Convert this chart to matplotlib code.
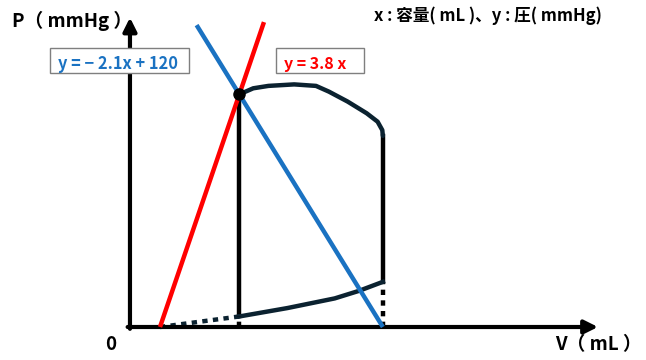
import matplotlib
matplotlib.use("Agg")
import matplotlib.pyplot as plt
from matplotlib.patches import Rectangle

plt.rcParams['font.family'] = ['Noto Sans CJK JP', 'DejaVu Sans']

# lines: P = slope * V + intercept
red_slope, red_icpt = 3.8, 0.0
blue_slope, blue_icpt = -2.1, 120.0

# end-systolic point and end-diastolic volume
esv = (blue_icpt - red_icpt) / (red_slope - blue_slope)
esp = red_slope * esv
edv = -blue_icpt / blue_slope

# upper (ejection) curve of the loop
top_v = [esv, 23.9, 27.8, 34.4, 40.0, 43.3, 48.1, 53.0, 55.8, 57.0, edv]
top_p = [esp, 79.3, 80.1, 80.6, 80.1, 78.2, 74.9, 71.0, 68.2, 65.4, 63.5]

# lower (filling) curve of the loop
low_v = [esv, 32.7, 44.8, 51.0, edv]
low_p = [3.5, 6.3, 9.5, 12.0, 15.0]

red_top = 101.3
blue_top = 100.3

W, H = 646, 360
fig = plt.figure(figsize=(W / 100, H / 100), dpi=100)
ax = fig.add_axes([0, 0, 1, 1])
ax.set_xlim(-160 / 3.9, (W - 160) / 3.9)
ax.set_ylim(-(H - 327) / 3.01, 327 / 3.01)
ax.axis('off')

navy = '#0b2230'
lw = 3.2

# axes arrows
ax.annotate('', xy=(112.3, 0), xytext=(-8.3, 0),
            arrowprops=dict(arrowstyle='-|>', lw=3, color='black',
                            mutation_scale=20, shrinkA=0, shrinkB=0))
ax.annotate('', xy=(-7.7, 102.8), xytext=(-7.7, -0.6),
            arrowprops=dict(arrowstyle='-|>', lw=3, color='black',
                            mutation_scale=20, shrinkA=0, shrinkB=0))

# red and blue lines
rx = [0, (red_top - red_icpt) / red_slope]
ax.plot(rx, [red_slope * v + red_icpt for v in rx], color='#ff0000', lw=lw,
        solid_capstyle='butt', zorder=3)
bx = [(blue_top - blue_icpt) / blue_slope, edv]
ax.plot(bx, [blue_slope * v + blue_icpt for v in bx], color='#1a72c2', lw=lw,
        solid_capstyle='butt', zorder=3)

# loop
ax.plot([esv, esv], [low_p[0], esp], color='black', lw=lw, zorder=2)
ax.plot([edv, edv], [low_p[-1], top_p[-1]], color='black', lw=lw, zorder=2)
ax.plot(top_v, top_p, color=navy, lw=lw, solid_joinstyle='round',
        solid_capstyle='round', zorder=2)
ax.plot(low_v, low_p, color=navy, lw=lw, solid_joinstyle='round', zorder=2)
ax.plot([0, esv], [0, low_p[0]], color=navy, lw=lw, ls=(0, (1.2, 1.2)), zorder=2)
ax.plot([esv, esv], [0, low_p[0]], color='black', lw=lw, ls=(0, (1.2, 1.2)), zorder=2)
ax.plot([edv, edv], [0, low_p[-1] - 1.5], color='black', lw=lw, ls=(0, (1.2, 1.2)), zorder=2)
ax.plot([esv], [esp], 'o', color='black', ms=8, zorder=4)


def fx(px):
    return px / W


def fy(py):
    return 1 - py / H


# labels
fig.text(fx(12), fy(21), 'P（ mmHg ）', fontsize=13.5, fontweight='bold', va='center')
fig.text(fx(555), fy(345), 'V（ mL ）', fontsize=13.5, fontweight='bold', va='center')
fig.text(fx(105), fy(345), '0', fontsize=13.5, fontweight='bold', va='center')
fig.text(fx(374), fy(16), 'x : 容量( mL )、y : 圧( mmHg)', fontsize=12,
         fontweight='bold', va='center')

# equation boxes
for x0, y0, w, h in [(50, 48, 139, 25), (276, 48, 88, 25)]:
    fig.patches.append(Rectangle((fx(x0), fy(y0 + h)), w / W, h / H,
                                 transform=fig.transFigure, fill=True,
                                 facecolor='white', edgecolor='#7f7f7f', lw=1,
                                 zorder=5))
fig.text(fx(58), fy(64), 'y = − 2.1x + 120', fontsize=11.8, fontweight='bold',
         color='#1a72c2', va='center', zorder=6)
fig.text(fx(284), fy(64), 'y = 3.8 x', fontsize=11.5, fontweight='bold',
         color='#ff0000', va='center', zorder=6)

fig.savefig('out.png', dpi=100)
